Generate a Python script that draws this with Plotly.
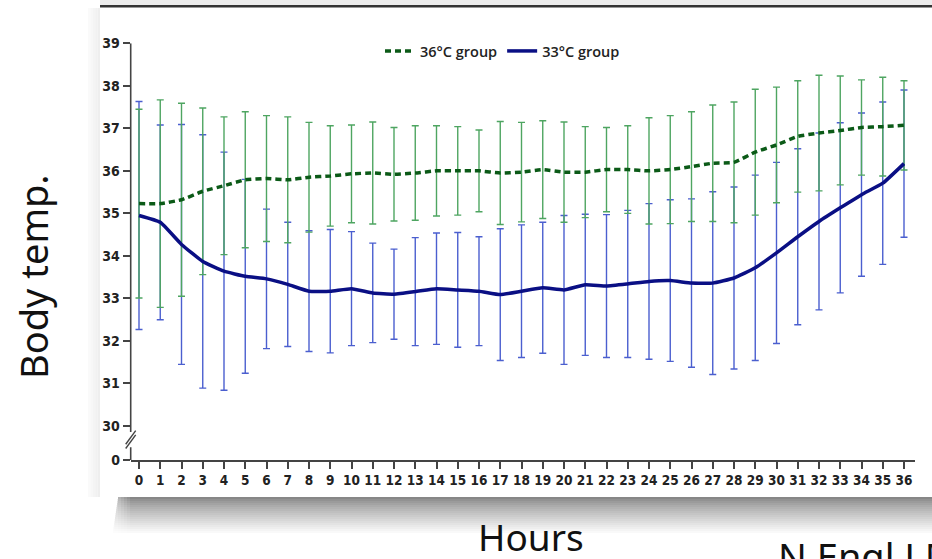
import plotly.graph_objects as go

hours = list(range(37))
tick_hours = list(range(37))
mean36 = [35.23, 35.23, 35.32, 35.52, 35.65, 35.79, 35.82, 35.79, 35.85, 35.88, 35.93, 35.95, 35.92,
          35.95, 36.00, 36.00, 36.00, 35.95, 35.97, 36.03, 35.97, 35.97, 36.03, 36.03, 36.00, 36.03,
          36.10, 36.18, 36.20, 36.44, 36.61, 36.81, 36.89, 36.95, 37.02, 37.04, 37.07]
sd36 = [2.22, 2.44, 2.27, 1.96, 1.62, 1.60, 1.48, 1.48, 1.29, 1.18, 1.15, 1.20, 1.10,
        1.11, 1.06, 1.04, 0.96, 1.21, 1.17, 1.15, 1.18, 1.07, 0.99, 1.03, 1.25, 1.27,
        1.29, 1.37, 1.42, 1.48, 1.36, 1.31, 1.36, 1.28, 1.12, 1.16, 1.05]
mean33 = [34.95, 34.79, 34.27, 33.87, 33.64, 33.52, 33.46, 33.33, 33.17, 33.17, 33.23, 33.13, 33.10,
          33.16, 33.23, 33.20, 33.17, 33.09, 33.17, 33.25, 33.20, 33.32, 33.29, 33.34, 33.40, 33.42,
          33.36, 33.36, 33.48, 33.72, 34.07, 34.45, 34.81, 35.13, 35.44, 35.71, 36.17]
sd33 = [2.68, 2.29, 2.82, 2.98, 2.80, 2.28, 1.64, 1.46, 1.42, 1.45, 1.34, 1.17, 1.06,
        1.27, 1.31, 1.35, 1.28, 1.55, 1.56, 1.54, 1.75, 1.66, 1.68, 1.73, 1.83, 1.90,
        1.98, 2.15, 2.14, 2.18, 2.13, 2.07, 2.08, 2.00, 1.92, 1.91, 1.73]
y_tickvals = [29.2, 30, 31, 32, 33, 34, 35, 36, 37, 38, 39]
y_ticktext = ["0", "30", "31", "32", "33", "34", "35", "36", "37", "38", "39"]
series_names = ["36°C group", "33°C group"]

W, H = 932, 559
GREEN_BAR = "#4ea561"
GREEN_LINE = "#0b5a17"
BLUE_BAR = "#4b5fcf"
BLUE_LINE = "#0a0f84"
AXIS = "#444444"

fig = go.Figure()
# error bars
fig.add_trace(go.Scatter(x=hours, y=mean33, mode="markers", marker=dict(color="rgba(0,0,0,0)", size=1),
                         error_y=dict(type="data", array=sd33, visible=True, color=BLUE_BAR, thickness=1.4, width=3.5),
                         showlegend=False, hoverinfo="skip"))
fig.add_trace(go.Scatter(x=hours, y=mean36, mode="markers", marker=dict(color="rgba(0,0,0,0)", size=1),
                         error_y=dict(type="data", array=sd36, visible=True, color=GREEN_BAR, thickness=1.4, width=3.5),
                         showlegend=False, hoverinfo="skip"))
# mean lines
fig.add_trace(go.Scatter(x=hours, y=mean36, mode="lines", name=series_names[0],
                         line=dict(color=GREEN_LINE, width=3.5, dash="6px,4px", shape="spline", smoothing=0.4)))
fig.add_trace(go.Scatter(x=hours, y=mean33, mode="lines", name=series_names[1],
                         line=dict(color=BLUE_LINE, width=3.5, shape="spline", smoothing=0.4)))

x0px, x1px = 130.7, 915
ytop, ybot = 43.3, 460
fig.update_layout(
    width=W, height=H, margin=dict(l=0, r=0, t=0, b=0),
    paper_bgcolor="white", plot_bgcolor="rgba(0,0,0,0)",
    showlegend=True,
    legend=dict(orientation="h", x=380 / W, xanchor="left", y=1 - 51 / H, yanchor="middle",
                bgcolor="rgba(0,0,0,0)", font=dict(family="Open Sans", size=14.5, color="#222", weight=600),
                itemwidth=30, tracegroupgap=0),
    xaxis=dict(domain=[x0px / W, x1px / W], range=[-(139 - x0px) / 21.25, 36 + (x1px - 904) / 21.25],
               tickvals=tick_hours, ticks="outside", ticklen=7, tickwidth=1.5, tickcolor=AXIS,
               showline=True, linecolor=AXIS, linewidth=1.6, showgrid=False, zeroline=False,
               tickfont=dict(family="DejaVu Sans Condensed", size=13.5, color="#222", weight="bold"),
               automargin=False, fixedrange=True),
    yaxis=dict(domain=[1 - ybot / H, 1 - ytop / H], range=[29.2, 39.0],
               tickvals=y_tickvals, ticktext=y_ticktext, ticks="outside", ticklen=7, tickwidth=1.5,
               tickcolor=AXIS, showline=False, showgrid=False, zeroline=False,
               tickfont=dict(family="DejaVu Sans Condensed", size=14, color="#222", weight="bold"),
               automargin=False, fixedrange=True),
)

shapes = []
# left spine with break
shapes.append(dict(type="line", xref="paper", yref="y", x0=x0px / W, x1=x0px / W, y0=29.86, y1=39.0,
                   line=dict(color=AXIS, width=1.6)))
shapes.append(dict(type="line", xref="paper", yref="y", x0=x0px / W, x1=x0px / W, y0=29.2, y1=29.5,
                   line=dict(color=AXIS, width=1.6)))
for dy in (0.0, 0.1):
    shapes.append(dict(type="line", xref="paper", yref="y", x0=(x0px - 5) / W, x1=(x0px + 5) / W,
                       y0=29.47 + dy, y1=29.79 + dy, line=dict(color=AXIS, width=1.4)))
# top border of the embedded image
shapes.append(dict(type="rect", xref="paper", yref="paper", x0=100 / W, x1=1, y0=1 - 5 / H, y1=1,
                   fillcolor="#ececec", line=dict(width=0), layer="below"))
shapes.append(dict(type="rect", xref="paper", yref="paper", x0=100 / W, x1=1, y0=1 - 7.5 / H, y1=1 - 5 / H,
                   fillcolor="#333333", line=dict(width=0), layer="below"))
# drop shadow below image
shadow_steps = 18
for i in range(shadow_steps):
    ya = 497 + i * 2
    g = int(135 + (255 - 135) * (i / shadow_steps) ** 0.8)
    shapes.append(dict(type="rect", xref="paper", yref="paper", x0=(118 - i * 0.3) / W, x1=1,
                       y0=1 - (ya + 2) / H, y1=1 - ya / H,
                       fillcolor=f"rgb({g},{g},{g})", line=dict(width=0), layer="below"))
# fade at left end of shadow
for i in range(10):
    shapes.append(dict(type="rect", xref="paper", yref="paper", x0=(100 + i * 3) / W, x1=(103 + i * 3) / W,
                       y0=1 - 535 / H, y1=1 - 497 / H,
                       fillcolor="rgba(255,255,255,%.2f)" % (0.9 - i * 0.09), line=dict(width=0), layer="below"))
# faint left shadow
for i in range(5):
    g = int(250 - i * 3)
    shapes.append(dict(type="rect", xref="paper", yref="paper", x0=(88 + i * 2.4) / W, x1=(90.4 + i * 2.4) / W,
                       y0=1 - 497 / H, y1=1 - 8 / H,
                       fillcolor=f"rgb({g},{g},{g})", line=dict(width=0), layer="below"))
fig.update_layout(shapes=shapes)

fig.add_annotation(text="Body temp.", xref="paper", yref="paper", x=33 / W, y=1 - 277 / H,
                   textangle=-90, showarrow=False, xanchor="center", yanchor="middle",
                   font=dict(family="Noto Sans", size=38, color="#111"))
fig.add_annotation(text="Hours", xref="paper", yref="paper", x=531 / W, y=1 - 536 / H,
                   showarrow=False, xanchor="center", yanchor="middle", borderpad=0,
                   font=dict(family="Noto Sans", size=37, color="#111"))
fig.add_annotation(text="N Engl J Med", xref="paper", yref="paper", x=776 / W, y=1 - 528 / H,
                   showarrow=False, xanchor="left", yanchor="top",
                   font=dict(family="Noto Sans", size=38, color="#111"))

fig.write_html("out.html", config={"displayModeBar": False},
               post_script="document.body.style.margin='0';document.body.style.overflow='hidden';")
